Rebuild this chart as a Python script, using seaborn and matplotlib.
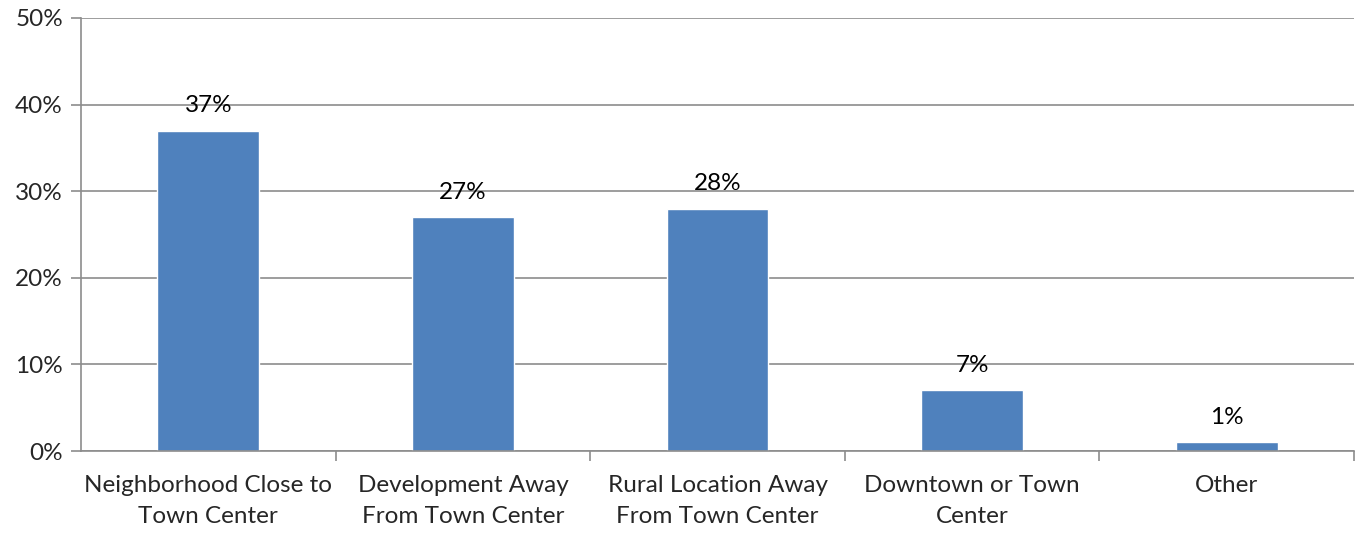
import matplotlib
matplotlib.use("Agg")
import matplotlib.pyplot as plt
import seaborn as sns
import pandas as pd

categories = ["Neighborhood Close to\nTown Center", "Development Away\nFrom Town Center",
              "Rural Location Away\nFrom Town Center", "Downtown or Town\nCenter", "Other"]
values = [37, 27, 28, 7, 1]
labels = ["37%", "27%", "28%", "7%", "1%"]
yticks = [0, 10, 20, 30, 40, 50]
ytick_labels = ["0%", "10%", "20%", "30%", "40%", "50%"]

sns.set_theme(style="white")
plt.rcParams['font.family'] = ['Lato', 'DejaVu Sans']

df = pd.DataFrame({"cat": categories, "val": values})
fig = plt.figure(figsize=(13.6, 5.33), dpi=100)
ax = fig.add_axes([81/1360, 1-451/533, (1354-81)/1360, (451-18)/533])
sns.barplot(data=df, x="cat", y="val", color="#4F81BD", saturation=1, width=0.4, ax=ax)
ax.set_xlim(-0.5, len(categories)-0.5)
ax.set_ylim(0, 50)
ax.set_yticks(yticks)
ax.set_yticklabels(ytick_labels)
ax.yaxis.grid(True, color="#8C8C8C", linewidth=1.2)
ax.set_axisbelow(True)
for s in ["top", "right"]:
    ax.spines[s].set_visible(False)
for s in ["left", "bottom"]:
    ax.spines[s].set_color("#8C8C8C")
    ax.spines[s].set_linewidth(1.2)
ax.set_xlabel("")
ax.set_ylabel("")
ax.tick_params(axis="y", length=7, width=1.2, color="#8C8C8C", labelsize=17.5, pad=6, left=True)
ax.tick_params(axis="x", which="major", length=0, labelsize=17.5, pad=17)
ax.tick_params(axis="x", which="minor", length=7, width=1.2, color="#8C8C8C", bottom=True)
ax.xaxis.set_minor_locator(matplotlib.ticker.FixedLocator([i + 0.5 for i in range(len(categories))]))
for lbl in ax.get_xticklabels():
    lbl.set_linespacing(1.6)
for i, (v, t) in enumerate(zip(values, labels)):
    ax.text(i, v + 2.1, t, ha="center", va="baseline", fontsize=17.5, color="black")
fig.savefig("out.png", dpi=100)
